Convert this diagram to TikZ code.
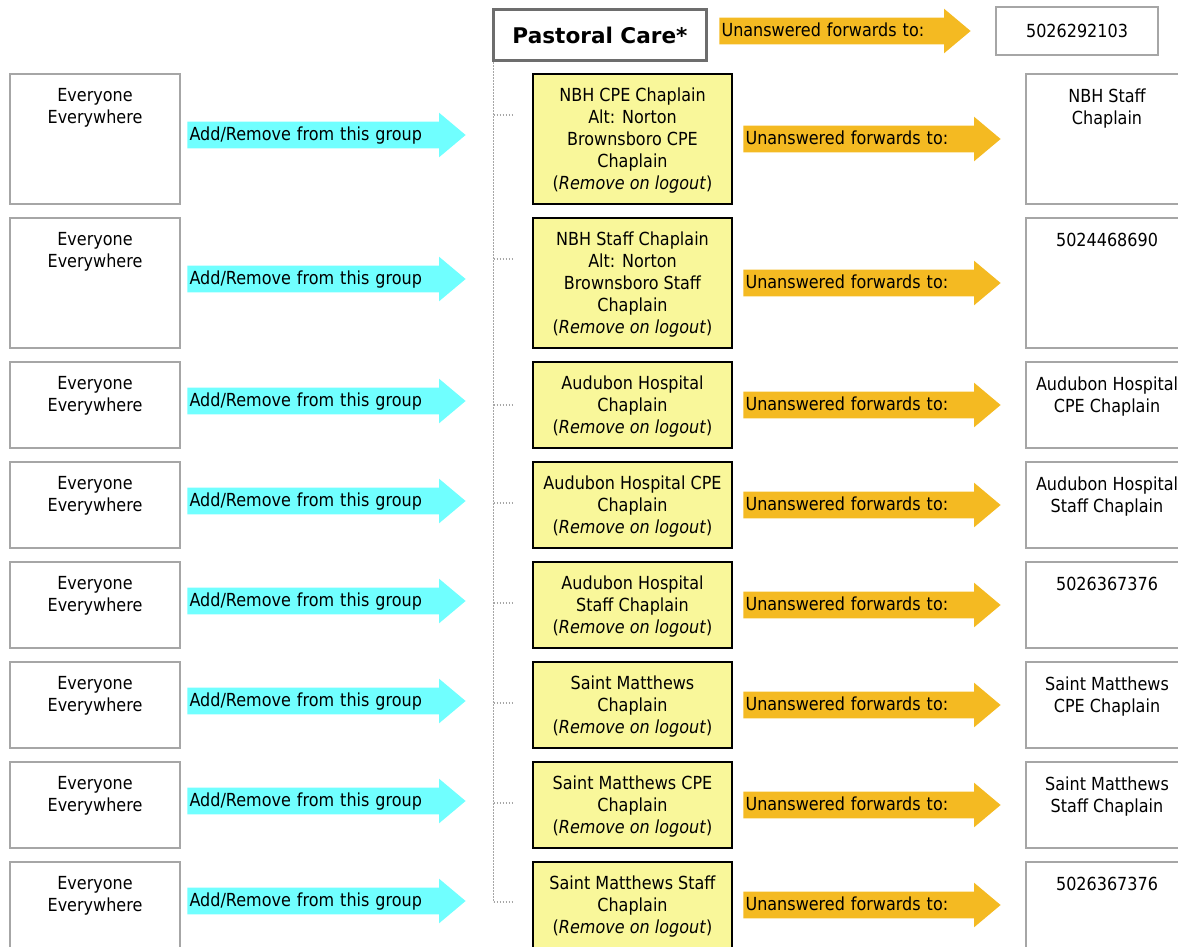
\documentclass[tikz,border=0pt]{standalone}
\usepackage{fontspec}
\setmainfont{DejaVu Sans}[FakeStretch=0.89]
\newfontfamily\carefont{DejaVu Sans}
\usepackage{tikz}
\usetikzlibrary{positioning,shapes.arrows}

\newlength\pxu
\setlength\pxu{0.75pt}

\definecolor{addcyan}{HTML}{70FFFF}
\definecolor{fwdorange}{HTML}{F4BA22}
\definecolor{dutyyellow}{HTML}{F9F79A}
\definecolor{sidegray}{HTML}{A6A6A6}
\definecolor{caregray}{HTML}{6D6D6D}

\begin{document}
\begin{tikzpicture}[x=\pxu,y=-\pxu,font=\fontsize{13.5}{16.5}\selectfont]
	\tikzstyle{side} = [draw=sidegray, line width=1.5pt, rectangle, minimum width=170\pxu, inner sep=0pt]
	\tikzstyle{sidetext} = [anchor=north, align=center, inner sep=0pt, yshift=-15.5\pxu]
	\tikzstyle{duty} = [draw=black, line width=1.5pt, fill=dutyyellow, rectangle, minimum width=199\pxu, align=center, inner sep=0pt, text depth=-1.5pt]
	\tikzstyle{arrowbox} = [single arrow, single arrow tip angle=80, single arrow head extend=9\pxu, inner xsep=2\pxu, inner ysep=4\pxu, text height=14\pxu, text depth=4\pxu, align=left]
	\tikzstyle{addarrow} = [arrowbox, fill=addcyan, text width=258\pxu]
	\tikzstyle{fwdarrow} = [arrowbox, fill=fwdorange, text width=237\pxu]
	\tikzstyle{tree} = [draw=sidegray, line width=1.2\pxu, dash pattern=on 1.5\pxu off 1.5\pxu]

	\useasboundingbox (0,0) rectangle (1178,946);

	% header
	\node [draw=caregray, line width=2.25pt, minimum width=213\pxu, minimum height=51\pxu, font=\carefont\bfseries\fontsize{16.2}{19}\selectfont] (care) at (600,35) {Pastoral Care*};
	\node [fwdarrow, text width=231\pxu, right=11\pxu of care, yshift=3pt] (fwd0) {Unanswered forwards to:};
	\node [side, minimum width=162\pxu, minimum height=48\pxu, right=24\pxu of fwd0] (dest0) {5026292103};

	% row 1
	\node [side, minimum height=130\pxu, label={[sidetext]north:Everyone\\Everywhere}] (who1) at (95,139) {};
	\node [addarrow, right=6\pxu of who1, yshift=3pt] (add1) {Add/Remove from this group};
	\node [duty, minimum height=130\pxu, right=351\pxu of who1] (duty1) {NBH CPE Chaplain\\Alt: Norton\\Brownsboro CPE\\Chaplain\\(\textit{Remove on logout})};
	\node [fwdarrow, right=10\pxu of duty1] (fwd1) {Unanswered forwards to:};
	\node [side, minimum width=162\pxu, minimum height=130\pxu, right=24\pxu of fwd1, label={[sidetext]north:NBH Staff\\Chaplain}] (dest1) {};

	% row 2
	\node [side, minimum height=130\pxu, label={[sidetext]north:Everyone\\Everywhere}] (who2) at (95,283) {};
	\node [addarrow, right=6\pxu of who2, yshift=3pt] (add2) {Add/Remove from this group};
	\node [duty, minimum height=130\pxu, right=351\pxu of who2] (duty2) {NBH Staff Chaplain\\Alt: Norton\\Brownsboro Staff\\Chaplain\\(\textit{Remove on logout})};
	\node [fwdarrow, right=10\pxu of duty2] (fwd2) {Unanswered forwards to:};
	\node [side, minimum width=162\pxu, minimum height=130\pxu, right=24\pxu of fwd2, label={[sidetext]north:5024468690}] (dest2) {};

	% row 3
	\node [side, minimum height=86\pxu, label={[sidetext]north:Everyone\\Everywhere}] (who3) at (95,405) {};
	\node [addarrow, right=6\pxu of who3, yshift=3pt] (add3) {Add/Remove from this group};
	\node [duty, minimum height=86\pxu, right=351\pxu of who3] (duty3) {Audubon Hospital\\Chaplain\\(\textit{Remove on logout})};
	\node [fwdarrow, right=10\pxu of duty3] (fwd3) {Unanswered forwards to:};
	\node [side, minimum width=162\pxu, minimum height=86\pxu, right=24\pxu of fwd3, label={[sidetext]north:Audubon Hospital\\CPE Chaplain}] (dest3) {};

	% row 4
	\node [side, minimum height=86\pxu, label={[sidetext]north:Everyone\\Everywhere}] (who4) at (95,505) {};
	\node [addarrow, right=6\pxu of who4, yshift=3pt] (add4) {Add/Remove from this group};
	\node [duty, minimum height=86\pxu, right=351\pxu of who4] (duty4) {Audubon Hospital CPE\\Chaplain\\(\textit{Remove on logout})};
	\node [fwdarrow, right=10\pxu of duty4] (fwd4) {Unanswered forwards to:};
	\node [side, minimum width=162\pxu, minimum height=86\pxu, right=24\pxu of fwd4, label={[sidetext]north:Audubon Hospital\\Staff Chaplain}] (dest4) {};

	% row 5
	\node [side, minimum height=86\pxu, label={[sidetext]north:Everyone\\Everywhere}] (who5) at (95,605) {};
	\node [addarrow, right=6\pxu of who5, yshift=3pt] (add5) {Add/Remove from this group};
	\node [duty, minimum height=86\pxu, right=351\pxu of who5] (duty5) {Audubon Hospital\\Staff Chaplain\\(\textit{Remove on logout})};
	\node [fwdarrow, right=10\pxu of duty5] (fwd5) {Unanswered forwards to:};
	\node [side, minimum width=162\pxu, minimum height=86\pxu, right=24\pxu of fwd5, label={[sidetext]north:5026367376}] (dest5) {};

	% row 6
	\node [side, minimum height=86\pxu, label={[sidetext]north:Everyone\\Everywhere}] (who6) at (95,705) {};
	\node [addarrow, right=6\pxu of who6, yshift=3pt] (add6) {Add/Remove from this group};
	\node [duty, minimum height=86\pxu, right=351\pxu of who6] (duty6) {Saint Matthews\\Chaplain\\(\textit{Remove on logout})};
	\node [fwdarrow, right=10\pxu of duty6] (fwd6) {Unanswered forwards to:};
	\node [side, minimum width=162\pxu, minimum height=86\pxu, right=24\pxu of fwd6, label={[sidetext]north:Saint Matthews\\CPE Chaplain}] (dest6) {};

	% row 7
	\node [side, minimum height=86\pxu, label={[sidetext]north:Everyone\\Everywhere}] (who7) at (95,805) {};
	\node [addarrow, right=6\pxu of who7, yshift=3pt] (add7) {Add/Remove from this group};
	\node [duty, minimum height=86\pxu, right=351\pxu of who7] (duty7) {Saint Matthews CPE\\Chaplain\\(\textit{Remove on logout})};
	\node [fwdarrow, right=10\pxu of duty7] (fwd7) {Unanswered forwards to:};
	\node [side, minimum width=162\pxu, minimum height=86\pxu, right=24\pxu of fwd7, label={[sidetext]north:Saint Matthews\\Staff Chaplain}] (dest7) {};

	% row 8
	\node [side, minimum height=86\pxu, label={[sidetext]north:Everyone\\Everywhere}] (who8) at (95,905) {};
	\node [addarrow, right=6\pxu of who8, yshift=3pt] (add8) {Add/Remove from this group};
	\node [duty, minimum height=86\pxu, right=351\pxu of who8] (duty8) {Saint Matthews Staff\\Chaplain\\(\textit{Remove on logout})};
	\node [fwdarrow, right=10\pxu of duty8] (fwd8) {Unanswered forwards to:};
	\node [side, minimum width=162\pxu, minimum height=86\pxu, right=24\pxu of fwd8, label={[sidetext]north:5026367376}] (dest8) {};

	% dotted tree from the group box
	\coordinate (s1) at (514,115);
	\coordinate (s2) at (514,259);
	\coordinate (s3) at (514,405);
	\coordinate (s4) at (514,503);
	\coordinate (s5) at (514,603);
	\coordinate (s6) at (514,703);
	\coordinate (s7) at (514,803);
	\coordinate (s8) at (514,902);

	\draw [tree] ([xshift=1.5\pxu]care.south west) -- ([xshift=1.5\pxu]care.south west |- s8);
	\draw [tree] ([xshift=1.5\pxu]care.south west |- s1) -- (s1);
	\draw [tree] ([xshift=1.5\pxu]care.south west |- s2) -- (s2);
	\draw [tree] ([xshift=1.5\pxu]care.south west |- s3) -- (s3);
	\draw [tree] ([xshift=1.5\pxu]care.south west |- s4) -- (s4);
	\draw [tree] ([xshift=1.5\pxu]care.south west |- s5) -- (s5);
	\draw [tree] ([xshift=1.5\pxu]care.south west |- s6) -- (s6);
	\draw [tree] ([xshift=1.5\pxu]care.south west |- s7) -- (s7);
	\draw [tree] ([xshift=1.5\pxu]care.south west |- s8) -- (s8);
\end{tikzpicture}
\end{document}
